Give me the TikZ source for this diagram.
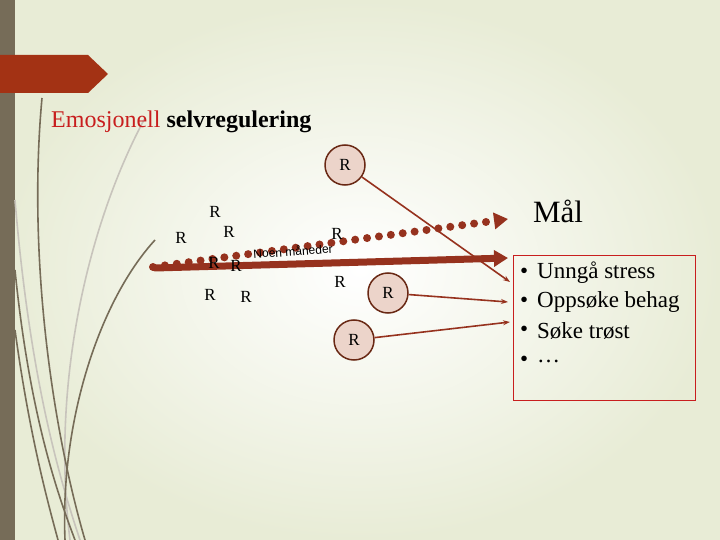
\documentclass[tikz,border=0pt]{standalone}
\usepackage{fontspec}
\setmainfont{Liberation Serif}
\newfontfamily\sansf{Liberation Sans}
\usetikzlibrary{arrows.meta}
\definecolor{bg}{RGB}{232,236,214}
\definecolor{bar}{RGB}{118,108,88}
\definecolor{banner}{RGB}{163,50,20}
\definecolor{arr}{RGB}{150,50,30}
\definecolor{cfill}{RGB}{236,212,202}
\definecolor{cdraw}{RGB}{105,40,20}
\definecolor{titlered}{RGB}{200,30,30}
\tikzset{
 circ/.style={circle,draw=cdraw,line width=1.5pt,fill=cfill,minimum size=40pt,inner sep=0pt,font=\fontsize{17}{17}\selectfont},
 rl/.style={font=\fontsize{17}{17}\selectfont,inner sep=0pt},
 thin/.style={draw=arr,line width=1.6pt,-{Stealth[length=7pt,width=5pt]}},
 grass/.style={draw=bar,line width=1.6pt},
 grassl/.style={draw=bar!40,line width=1.6pt},
 bul/.style={font=\fontsize{23}{23}\selectfont,anchor=west,inner sep=0pt}
}
\begin{document}
\begin{tikzpicture}[x=1pt,y=-1pt]
\useasboundingbox (0,0) rectangle (720,540);
\shade[inner color=white,outer color=bg] (0,0) rectangle (720,540);
\fill[bar] (0,0) rectangle (15,540);
\fill[banner] (0,55) -- (88,55) -- (108,74) -- (88,93) -- (0,93) -- cycle;
% grass
\draw[grassl] (15,200) .. controls (30,380) and (60,480) .. (80,540);
\draw[grassl] (145,118) .. controls (90,220) and (50,380) .. (70,540);
\draw[grass] (42,98) .. controls (28,250) and (50,420) .. (85,540);
\draw[grass] (15,270) .. controls (30,420) and (60,500) .. (75,540);
\draw[grass] (155,240) .. controls (100,300) and (60,420) .. (65,540);
\draw[grass] (15,330) .. controls (30,440) and (50,510) .. (58,540);
% title
\node[anchor=west,inner sep=0pt,font=\fontsize{24}{24}\selectfont] (title) at (51,122) {\textcolor{titlered}{Emosjonell} \textbf{selvregulering}};
% arrows
\coordinate (s1) at (155,268);
\coordinate (e1) at (508,258);
\coordinate (s2) at (153,267);
\coordinate (e2) at (508,219);
\draw[arr,line width=7pt,line cap=round,-{Triangle[length=14pt,width=16pt]}] (s1) -- (e1);
\draw[arr,line width=8pt,line cap=round,dash pattern=on 0pt off 12pt,-{Triangle[length=14pt,width=16pt]}] (s2) -- (e2);
\node[circ] (c1) at (345,165) {R};
\node[circ] (c2) at (388,293) {R};
\node[circ] (c3) at (354,340) {R};
\coordinate (t1) at (510,282);
\coordinate (t2) at (508,302);
\coordinate (t3) at (510,322);
\draw[thin] (c1) -- (t1);
\draw[thin] (c2) -- (t2);
\draw[thin] (c3) -- (t3);
\node[rl] (r1) at (215,212) {R};
\node[rl] (r2) at (229,232) {R};
\node[rl] (r3) at (181,238) {R};
\node[rl] (r4) at (337,234) {R};
\node[rl] (r5) at (214,263) {R};
\node[rl] (r6) at (236,266) {R};
\node[rl] (r7) at (210,295) {R};
\node[rl] (r8) at (246,297) {R};
\node[rl] (r9) at (340,282) {R};
\node[font=\sansf\fontsize{12}{12}\selectfont,inner sep=0pt,rotate=4] (noen) at (293,251) {Noen måneder};
\node[font=\fontsize{31}{31}\selectfont,inner sep=0pt] (maal) at (558,211) {Mål};
\draw[draw=titlered,line width=0.8pt] (513,255) rectangle (695,400);
\foreach \y/\t [count=\i] in {273/Unngå stress,302/Oppsøke behag,331/Søke trøst,361/…}{
  \node[bul] (d\i) at (520,\y) {•};
  \node[bul] (b\i) at (537,\y) {\t};
}
\end{tikzpicture}
\end{document}
